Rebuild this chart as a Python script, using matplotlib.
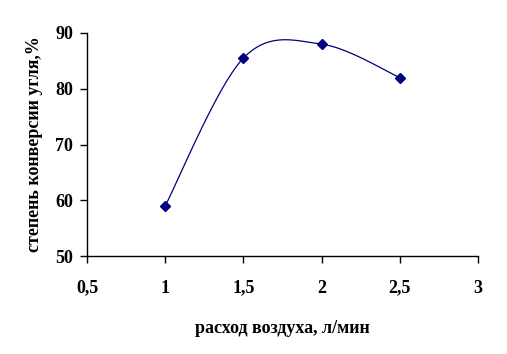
import numpy as np
import matplotlib
matplotlib.use("Agg")
import matplotlib.pyplot as plt

x_vals = [1.0, 1.5, 2.0, 2.5]
y_vals = [59.0, 85.5, 88.0, 82.0]
x_ticks = [0.5, 1, 1.5, 2, 2.5, 3]
x_tick_labels = ["0,5", "1", "1,5", "2", "2,5", "3"]
y_ticks = [50, 60, 70, 80, 90]
x_label = "расход воздуха, л/мин"
y_label = "степень конверсии угля,%"

plt.rcParams['font.family'] = ['Liberation Serif', 'DejaVu Serif']

def smooth(xs, ys, n=60):
    P = np.column_stack([xs, ys])
    pts = [P[0]] + list(P) + [P[-1]]
    out = []
    for i in range(1, len(pts) - 2):
        p0, p1, p2, p3 = pts[i-1], pts[i], pts[i+1], pts[i+2]
        c1 = p1 + (p2 - p0) / 6.0
        c2 = p2 - (p3 - p1) / 6.0
        t = np.linspace(0, 1, n)[:, None]
        seg = ((1-t)**3)*p1 + 3*((1-t)**2)*t*c1 + 3*(1-t)*t**2*c2 + t**3*p2
        out.append(seg)
    out = np.vstack(out)
    return out[:, 0], out[:, 1]

fig = plt.figure(figsize=(5.07, 3.54), dpi=100)
ax = fig.add_axes([0.1716, 0.2768, 0.7712, 0.630])
sx, sy = smooth(x_vals, y_vals)
ax.plot(sx, sy, color='#000080', lw=0.9)
ax.plot(x_vals, y_vals, linestyle='none', marker='D', markersize=4.6, color='#000080')
ax.set_xlim(0.5, 3)
ax.set_ylim(50, 90)
ax.set_xticks(x_ticks)
ax.set_xticklabels(x_tick_labels)
ax.set_yticks(y_ticks)
ax.spines['top'].set_visible(False)
ax.spines['right'].set_visible(False)
for s in ['left', 'bottom']:
    ax.spines[s].set_linewidth(1.0)
ax.tick_params(direction='out', length=5, width=1, labelsize=13, pad=5)
ax.tick_params(axis='x', pad=12)
for lab in ax.get_xticklabels() + ax.get_yticklabels():
    lab.set_fontweight('bold')
ax.set_xlabel(x_label, fontsize=13, fontweight='bold', labelpad=17)
ax.set_ylabel(y_label, fontsize=13, fontweight='bold', labelpad=9)
fig.savefig("out.png", dpi=100)
